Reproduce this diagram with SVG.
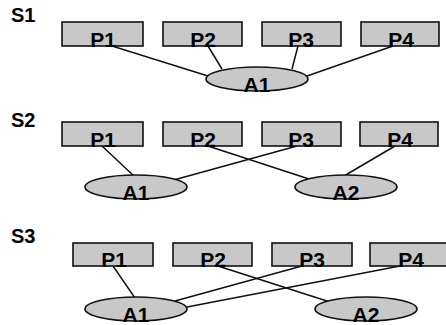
<svg xmlns="http://www.w3.org/2000/svg" width="446" height="325" viewBox="0 0 446 325">
<style>
.bg{fill:#ffffff}
.box{fill:#c8c8c8;stroke:#111;stroke-width:1.6}
.ell{fill:#c8c8c8;stroke:#111;stroke-width:1.6}
.lbl{font-family:"Liberation Sans",Arial,sans-serif;font-size:21px;font-weight:bold;fill:#000;text-anchor:middle}
.sl{font-family:"Liberation Sans",Arial,sans-serif;font-size:20px;font-weight:bold;fill:#000}
.con line{stroke:#111;stroke-width:1.5}
</style>
<rect class="bg" x="0" y="0" width="446" height="325"/>
<text class="sl" x="11" y="22">S1</text>
<text class="sl" x="11" y="127">S2</text>
<text class="sl" x="11" y="243">S3</text>
<g id="connectors" class="con">
<line x1="112" y1="46" x2="208" y2="76"/>
<line x1="208" y1="46" x2="222" y2="69"/>
<line x1="298" y1="46" x2="292" y2="69"/>
<line x1="393" y1="46" x2="307" y2="76"/>
<line x1="102" y1="146" x2="135" y2="177"/>
<line x1="297" y1="146" x2="170" y2="181"/>
<line x1="208" y1="146" x2="309" y2="179"/>
<line x1="395" y1="146" x2="344" y2="176"/>
<line x1="113" y1="266" x2="135" y2="298"/>
<line x1="302" y1="266" x2="175" y2="301"/>
<line x1="400" y1="266" x2="187" y2="307"/>
<line x1="218" y1="266" x2="330" y2="302"/>
</g>
<g id="s1-p1"><rect class="box" x="62" y="22" width="81" height="24"/><text class="lbl" x="103" y="47">P1</text></g>
<g id="s1-p2"><rect class="box" x="163" y="22" width="79" height="24"/><text class="lbl" x="203" y="47">P2</text></g>
<g id="s1-p3"><rect class="box" x="262" y="22" width="79" height="24"/><text class="lbl" x="301" y="47">P3</text></g>
<g id="s1-p4"><rect class="box" x="361" y="22" width="78" height="24"/><text class="lbl" x="401" y="47">P4</text></g>
<g id="s1-a1"><ellipse class="ell" cx="257" cy="79" rx="51" ry="12"/><text class="lbl" x="257" y="92">A1</text></g>
<g id="s2-p1"><rect class="box" x="62" y="122" width="81" height="24"/><text class="lbl" x="103" y="147">P1</text></g>
<g id="s2-p2"><rect class="box" x="163" y="122" width="79" height="24"/><text class="lbl" x="203" y="147">P2</text></g>
<g id="s2-p3"><rect class="box" x="262" y="122" width="79" height="24"/><text class="lbl" x="301" y="147">P3</text></g>
<g id="s2-p4"><rect class="box" x="360" y="122" width="78" height="24"/><text class="lbl" x="400" y="147">P4</text></g>
<g id="s2-a1"><ellipse class="ell" cx="136" cy="187" rx="51" ry="12"/><text class="lbl" x="136" y="200">A1</text></g>
<g id="s2-a2"><ellipse class="ell" cx="346" cy="187" rx="51" ry="12"/><text class="lbl" x="346" y="200">A2</text></g>
<g id="s3-p1"><rect class="box" x="73" y="243" width="80" height="23"/><text class="lbl" x="114" y="267">P1</text></g>
<g id="s3-p2"><rect class="box" x="173" y="243" width="79" height="23"/><text class="lbl" x="213" y="267">P2</text></g>
<g id="s3-p3"><rect class="box" x="272" y="243" width="80" height="23"/><text class="lbl" x="312" y="267">P3</text></g>
<g id="s3-p4"><rect class="box" x="370" y="243" width="80" height="23"/><text class="lbl" x="411" y="267">P4</text></g>
<g id="s3-a1"><ellipse class="ell" cx="136" cy="309" rx="51" ry="12"/><text class="lbl" x="136" y="322">A1</text></g>
<g id="s3-a2"><ellipse class="ell" cx="366" cy="309" rx="51" ry="12"/><text class="lbl" x="366" y="322">A2</text></g>
</svg>
